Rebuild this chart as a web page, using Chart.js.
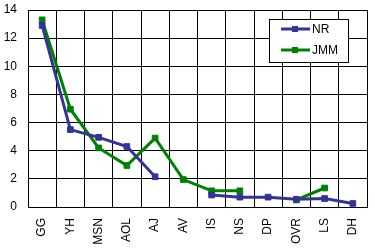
<!DOCTYPE html>
<html>
<head>
<meta charset="utf-8">
<script src="https://cdn.jsdelivr.net/npm/chart.js@4"></script>
<style>
  html, body { margin: 0; padding: 0; background: #fff; }
  #wrap { width: 375px; height: 251px; }
</style>
</head>
<body>
<div id="wrap"><canvas id="chart" width="375" height="251"></canvas></div>
<script>
const categories = ['GG', 'YH', 'MSN', 'AOL', 'AJ', 'AV', 'IS', 'NS', 'DP', 'OVR', 'LS', 'DH'];
const nrValues = [12.9, 5.5, 4.95, 4.3, 2.15, null, 0.85, 0.7, 0.7, 0.55, 0.6, 0.25];
const jmmValues = [13.3, 6.95, 4.2, 2.95, 4.9, 1.95, 1.15, 1.15, null, 0.5, 1.35, null];
const yTicks = [0, 2, 4, 6, 8, 10, 12, 14];

const fontFamily = '"Liberation Sans", Arial, sans-serif';

// legend drawn as a boxed panel inside the plot, like the original
const boxLegend = {
  id: 'boxLegend',
  afterDraw(chart) {
    const ctx = chart.ctx;
    const x0 = 269, y0 = 19, w = 79, h = 43;
    ctx.save();
    ctx.fillStyle = '#fff';
    ctx.fillRect(x0, y0, w, h);
    ctx.strokeStyle = '#000';
    ctx.lineWidth = 1;
    ctx.strokeRect(x0 + 0.5, y0 + 0.5, w, h);
    chart.data.datasets.forEach((ds, i) => {
      const y = y0 + 10 + i * 21;
      ctx.strokeStyle = ds.borderColor;
      ctx.lineWidth = 3;
      ctx.beginPath();
      ctx.moveTo(281, y);
      ctx.lineTo(310, y);
      ctx.stroke();
      ctx.fillStyle = ds.borderColor;
      ctx.fillRect(292, y - 3, 6, 6);
      ctx.fillStyle = '#000';
      ctx.font = '12px ' + fontFamily;
      ctx.textBaseline = 'middle';
      ctx.fillText(ds.label, 312, y + 1);
    });
    ctx.restore();
  }
};

new Chart(document.getElementById('chart'), {
  type: 'line',
  data: {
    labels: categories,
    datasets: [{
      label: 'NR',
      data: nrValues,
      borderColor: '#333399',
      backgroundColor: '#333399',
      borderWidth: 3,
      pointStyle: 'rect',
      pointRadius: 4,
      pointBorderWidth: 1,
      tension: 0
    }, {
      label: 'JMM',
      data: jmmValues,
      borderColor: '#008000',
      backgroundColor: '#008000',
      borderWidth: 3,
      pointStyle: 'rect',
      pointRadius: 4,
      pointBorderWidth: 1,
      tension: 0
    }]
  },
  options: {
    responsive: false,
    animation: false,
    spanGaps: false,
    layout: { padding: { top: 10, right: 8, left: 0, bottom: 0 } },
    plugins: {
      legend: { display: false },
      tooltip: { enabled: false }
    },
    scales: {
      x: {
        offset: true,
        grid: { offset: true, color: '#000', lineWidth: 1, drawTicks: false },
        border: { color: '#000', width: 1 },
        ticks: {
          color: '#000',
          font: { size: 12, family: fontFamily },
          minRotation: 90,
          maxRotation: 90,
          padding: 11,
          autoSkip: false
        },
        afterFit(scale) {
          scale.height = 44;
          scale.paddingLeft = 0;
          scale.paddingRight = 0;
        }
      },
      y: {
        min: 0,
        max: 14,
        afterBuildTicks(scale) { scale.ticks = yTicks.map(v => ({ value: v })); },
        grid: { color: '#000', lineWidth: 1, drawTicks: false },
        border: { color: '#000', width: 1 },
        ticks: {
          color: '#000',
          font: { size: 12, family: fontFamily },
          padding: 11
        },
        afterFit(scale) {
          scale.width = 28;
          scale.paddingTop = 0;
          scale.paddingBottom = 0;
        }
      }
    }
  },
  plugins: [boxLegend]
});
</script>
</body>
</html>
